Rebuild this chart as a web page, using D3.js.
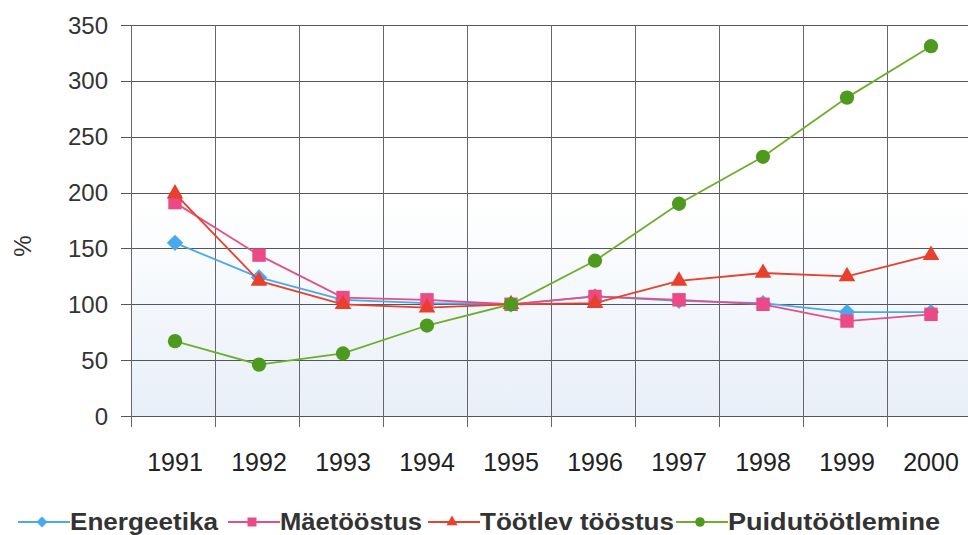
<html>
<style>
    body { margin:0; background:#fff; }
    svg { display:block; font-family:"Liberation Sans", Arial, sans-serif; }
</style>
<script src="https://d3js.org/d3.v7.min.js" charset="utf-8"></script>
<body>
<div class="chart"></div>
<script>
    // data
    var years = ["1991","1992","1993","1994","1995","1996","1997","1998","1999","2000"];
    var energeetika = [155, 124, 104, 101, 100, 107, 103, 101, 93, 93];
    var maetoostus = [191, 144, 106, 104, 100, 107, 104, 100, 85, 91];
    var tootlev = [199, 121, 100, 97, 100, 101, 121, 128, 125, 144];
    var puidu = [67, 46, 56, 81, 100, 139, 190, 232, 285, 331];
    var yTicks = [0, 50, 100, 150, 200, 250, 300, 350];

    var series = [
        { name: "Energeetika", values: energeetika, color: "#4aa8ec", line: "#4aa8ec", shape: d3.symbolDiamond2, size: 170 },
        { name: "Mäetööstus", values: maetoostus, color: "#ec4a86", line: "#e2508a", shape: d3.symbolSquare, size: 180 },
        { name: "Töötlev tööstus", values: tootlev, color: "#e8402c", line: "#e8402c", shape: d3.symbolTriangle, size: 120 },
        { name: "Puidutöötlemine", values: puidu, color: "#4d9a1e", line: "#6fae2a", shape: d3.symbolCircle, size: 160 }
    ];

    var W = 968, H = 535;
    var plotL = 131, plotR = 971, plotT = 25, plotB = 416;

    var svg = d3.select(".chart").append("svg")
        .attr("width", W)
        .attr("height", H);

    var x = d3.scaleBand().domain(years).range([plotL, plotR]).padding(0);
    var y = d3.scaleLinear().domain([0, 350]).range([plotB, plotT]);

    // background gradient (white on top, pale blue at the bottom)
    var grad = svg.append("defs").append("linearGradient")
        .attr("id", "bg").attr("x1", 0).attr("y1", 0).attr("x2", 0).attr("y2", 1);
    grad.append("stop").attr("offset", "0.45").attr("stop-color", "#ffffff");
    grad.append("stop").attr("offset", "1").attr("stop-color", "#e8eff8");
    svg.append("rect")
        .attr("x", plotL).attr("y", plotT)
        .attr("width", plotR - plotL).attr("height", plotB - plotT)
        .attr("fill", "url(#bg)");

    // horizontal grid + y ticks
    svg.append("g").selectAll("line")
        .data(yTicks).enter().append("line")
        .attr("x1", plotL - 10).attr("x2", W)
        .attr("y1", function(d){ return Math.round(y(d)) + 0.5; })
        .attr("y2", function(d){ return Math.round(y(d)) + 0.5; })
        .attr("stroke", "#55555e").attr("stroke-width", 1);

    // vertical grid at band edges
    var edges = years.map(function(d){ return x(d); });
    svg.append("g").selectAll("line")
        .data(edges).enter().append("line")
        .attr("x1", function(d){ return Math.round(d) + 0.5; })
        .attr("x2", function(d){ return Math.round(d) + 0.5; })
        .attr("y1", plotT).attr("y2", plotB + 11)
        .attr("stroke", "#66666e").attr("stroke-width", 1);

    // y tick labels
    svg.append("g").selectAll("text")
        .data(yTicks).enter().append("text")
        .attr("x", 108)
        .attr("y", function(d){ return y(d); })
        .attr("dy", "0.36em")
        .attr("text-anchor", "end")
        .attr("font-size", 24)
        .attr("fill", "#333")
        .text(function(d){ return d; });

    // x tick labels
    svg.append("g").selectAll("text")
        .data(years).enter().append("text")
        .attr("x", function(d){ return x(d) + x.bandwidth() / 2 + 2; })
        .attr("y", 471)
        .attr("text-anchor", "middle")
        .attr("font-size", 25)
        .attr("fill", "#222")
        .text(function(d){ return d; });

    // y axis title
    svg.append("text")
        .attr("transform", "translate(31,246) rotate(-90)")
        .attr("text-anchor", "middle")
        .attr("font-size", 24)
        .attr("fill", "#333")
        .text("%");

    var cx = function(d, i){ return x(years[i]) + x.bandwidth() / 2 + 2; };
    var line = d3.line()
        .x(cx)
        .y(function(d){ return y(d); });

    // lines + markers
    series.forEach(function(s) {
        var g = svg.append("g");
        g.append("path")
            .datum(s.values)
            .attr("d", line)
            .attr("fill", "none")
            .attr("stroke", s.line)
            .attr("stroke-width", 1.8);
        g.selectAll("path.m")
            .data(s.values).enter().append("path")
            .attr("class", "m")
            .attr("d", d3.symbol().type(s.shape).size(s.size))
            .attr("transform", function(d, i){ return "translate(" + cx(d, i) + "," + y(d) + ")"; })
            .attr("fill", s.color);
    });

    // legend
    var legendX = [18, 228, 428, 676];
    var legendW = [148, 142, 194, 212];
    var legend = svg.append("g").selectAll("g")
        .data(series).enter().append("g")
        .attr("transform", function(d, i){ return "translate(" + legendX[i] + ",522)"; });
    legend.append("line")
        .attr("x1", 0).attr("x2", 52)
        .attr("y1", 0).attr("y2", 0)
        .attr("stroke", function(d){ return d.line; })
        .attr("stroke-width", 1.8);
    legend.append("path")
        .attr("d", function(d){ return d3.symbol().type(d.shape).size(d.size * 0.45)(); })
        .attr("transform", "translate(24,0)")
        .attr("fill", function(d){ return d.color; });
    legend.append("text")
        .attr("x", 52)
        .attr("dy", "0.36em")
        .attr("font-size", 23)
        .attr("font-weight", "bold")
        .attr("fill", "#333")
        .attr("textLength", function(d, i){ return legendW[i]; })
        .attr("lengthAdjust", "spacingAndGlyphs")
        .text(function(d){ return d.name; });
</script>
</body>
</html>
